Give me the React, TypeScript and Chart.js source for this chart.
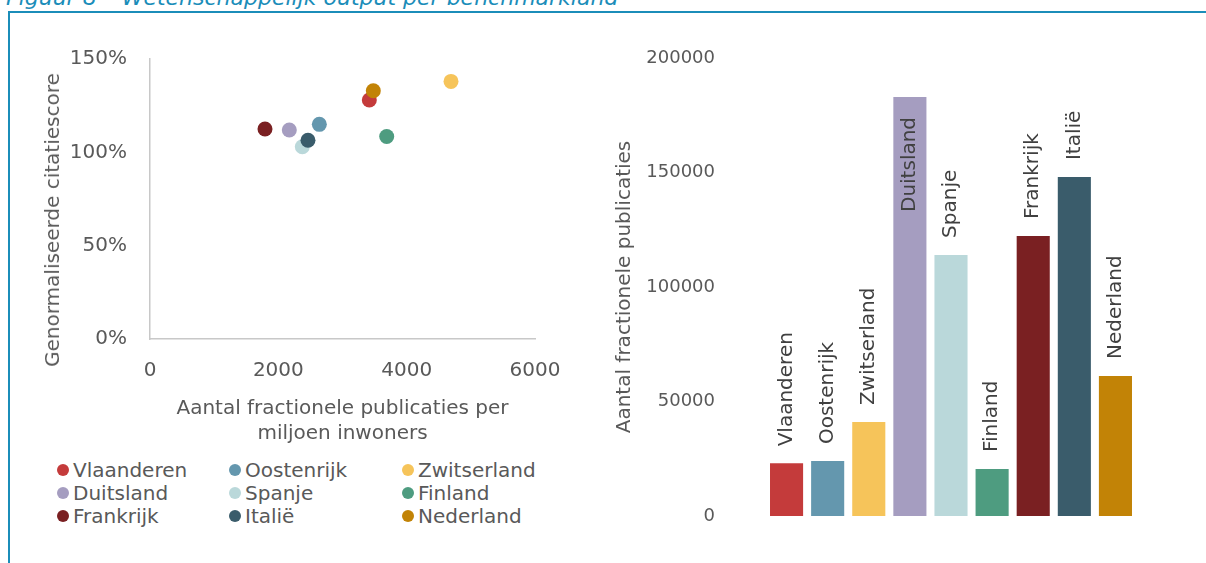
import React, { useEffect, useRef } from 'react';
import { Chart, registerables } from 'chart.js';

Chart.register(...registerables);

// ---- Data ----
const titleText = 'Figuur 8 – Wetenschappelijk output per benchmarkland';
const countries = ['Vlaanderen', 'Oostenrijk', 'Zwitserland', 'Duitsland', 'Spanje', 'Finland', 'Frankrijk', 'Italië', 'Nederland'];
const colors = ['#C43B3B', '#6497AE', '#F6C45A', '#A59DC0', '#BAD8DA', '#4E9C80', '#7A2022', '#3A5C6B', '#C28306'];
// publications per million inhabitants (x) and normalised citation score in % (y)
const pubsPerMillion = [3418, 2639, 4691, 2171, 2374, 3689, 1792, 2462, 3480];
const citationScore = [128, 115, 138, 112, 103, 108.5, 112.5, 106.5, 133];
// total fractional publications (bars)
const totalPubs = [23000, 24000, 41000, 183000, 114000, 20500, 122300, 148000, 61100];

const scatterXTitle = ['Aantal fractionele publicaties per', 'miljoen inwoners'];
const scatterYTitle = 'Genormaliseerde citatiescore';
const barYTitle = 'Aantal fractionele publicaties';

const scatterXMax = 6000;
const scatterXStep = 2000;
const scatterYMax = 150;
const scatterYStep = 50;
const barYMax = 200000;
const barYStep = 50000;

const FONT = '"DejaVu Sans", sans-serif';
const TEXT = '#595959';
const FRAME = '#1B8DB9';

const barLabelPlugin = {
  id: 'barLabels',
  afterDatasetsDraw(chart: any) {
    const ctx = chart.ctx;
    const meta = chart.getDatasetMeta(0);
    ctx.save();
    ctx.font = `20px ${FONT}`;
    ctx.fillStyle = '#404040';
    ctx.textBaseline = 'middle';
    meta.data.forEach((bar: any, i: number) => {
      const label = String(chart.data.labels[i]);
      const w = ctx.measureText(label).width;
      const gap = 17;
      const outside = bar.y - gap - w >= 0;
      ctx.save();
      ctx.translate(bar.x, outside ? bar.y - gap : bar.y + 20);
      ctx.rotate(-Math.PI / 2);
      ctx.textAlign = outside ? 'left' : 'right';
      ctx.fillText(label, 0, 0);
      ctx.restore();
    });
    ctx.restore();
  },
};

export default function App() {
  const scatterRef = useRef<HTMLCanvasElement>(null);
  const barRef = useRef<HTMLCanvasElement>(null);

  useEffect(() => {
    const scatter = new Chart(scatterRef.current!, {
      type: 'scatter',
      data: {
        datasets: countries.map((c, i) => ({
          label: c,
          data: [{ x: pubsPerMillion[i], y: citationScore[i] }],
          backgroundColor: colors[i],
          borderColor: colors[i],
          borderWidth: 0,
          pointRadius: 7.5,
          pointHoverRadius: 7.5,
          order: -i,
        })),
      },
      options: {
        animation: false,
        responsive: false,
        devicePixelRatio: 1,
        events: [],
        layout: { padding: { top: 59, left: 0, right: 65, bottom: 0 } },
        plugins: { legend: { display: false }, tooltip: { enabled: false } },
        scales: {
          x: {
            type: 'linear',
            position: 'bottom',
            min: 0,
            max: scatterXMax,
            ticks: {
              stepSize: scatterXStep,
              color: TEXT,
              font: { family: FONT, size: 20 },
              padding: 20,
              callback: (v: any) => String(v),
            },
            grid: { display: false, drawTicks: false },
            border: { display: true, color: '#C8C8C8', width: 1.5 },
            title: {
              display: true,
              text: scatterXTitle,
              color: TEXT,
              font: { family: FONT, size: 20, lineHeight: 1.25 },
              padding: 0,
            },
            afterFit: (s: any) => { s.height = 107; },
          },
          y: {
            type: 'linear',
            min: 0,
            max: scatterYMax,
            ticks: {
              stepSize: scatterYStep,
              color: TEXT,
              font: { family: FONT, size: 20 },
              padding: 23,
              callback: (v: any) => v + '%',
            },
            grid: { display: false, drawTicks: false },
            border: { display: true, color: '#C8C8C8', width: 1.5 },
            afterFit: (s: any) => { s.width = 150; },
          },
        },
      } as any,
    });

    const bar = new Chart(barRef.current!, {
      type: 'bar',
      data: {
        labels: countries,
        datasets: [{
          label: barYTitle,
          data: totalPubs,
          backgroundColor: colors,
          borderWidth: 0,
          barPercentage: 0.805,
          categoryPercentage: 1,
        }],
      },
      options: {
        animation: false,
        responsive: false,
        devicePixelRatio: 1,
        events: [],
        layout: { padding: { top: 58, left: 0, right: 70, bottom: 47 } },
        plugins: { legend: { display: false }, tooltip: { enabled: false } },
        scales: {
          x: { display: false },
          y: {
            min: 0,
            max: barYMax,
            ticks: {
              stepSize: barYStep,
              color: TEXT,
              font: { family: FONT, size: 18 },
              padding: 0,
              callback: (v: any) => String(v),
            },
            grid: { display: false, drawTicks: true, tickLength: 51 },
            border: { display: false },
            title: {
              display: true,
              text: barYTitle,
              color: TEXT,
              font: { family: FONT, size: 20 },
              padding: { top: 13, bottom: 0 },
            },
            afterFit: (s: any) => { s.width = 166; },
          },
        },
      } as any,
      plugins: [barLabelPlugin],
    });

    return () => {
      scatter.destroy();
      bar.destroy();
    };
  }, []);

  const legendCols = [63, 235, 408];
  const legendRows = [470, 493, 516];

  return (
    <div style={{ position: 'fixed', left: 0, top: 0, width: 1206, height: 563, background: '#fff', overflow: 'hidden', fontFamily: FONT }}>
      <div style={{ position: 'absolute', left: 6, top: -13, fontSize: 22, lineHeight: '22px', fontStyle: 'italic', color: FRAME, whiteSpace: 'nowrap' }}>
        {titleText}
      </div>
      <div style={{ position: 'absolute', left: 8, top: 11, right: -10, bottom: -10, borderTop: `2px solid ${FRAME}`, borderLeft: `2px solid ${FRAME}` }} />
      <canvas ref={scatterRef} width={600} height={446} style={{ position: 'absolute', left: 0, top: 0, width: 600, height: 446 }} />
      <canvas ref={barRef} width={606} height={563} style={{ position: 'absolute', left: 600, top: 0, width: 606, height: 563 }} />
      <div style={{ position: 'absolute', left: 52, top: 220, transform: 'translate(-50%, -50%) rotate(-90deg)', fontSize: 20, color: TEXT, whiteSpace: 'nowrap', lineHeight: '24px' }}>
        {scatterYTitle}
      </div>
      {countries.map((c, i) => {
        const col = i % 3;
        const row = Math.floor(i / 3);
        return (
          <div key={c} style={{ position: 'absolute', left: legendCols[col] - 6, top: legendRows[row] - 12, height: 24, display: 'flex', alignItems: 'center', whiteSpace: 'nowrap' }}>
            <span style={{ display: 'inline-block', width: 12, height: 12, borderRadius: '50%', background: colors[i], marginRight: 4 }} />
            <span style={{ fontSize: 20, lineHeight: '24px', color: TEXT }}>{c}</span>
          </div>
        );
      })}
    </div>
  );
}
